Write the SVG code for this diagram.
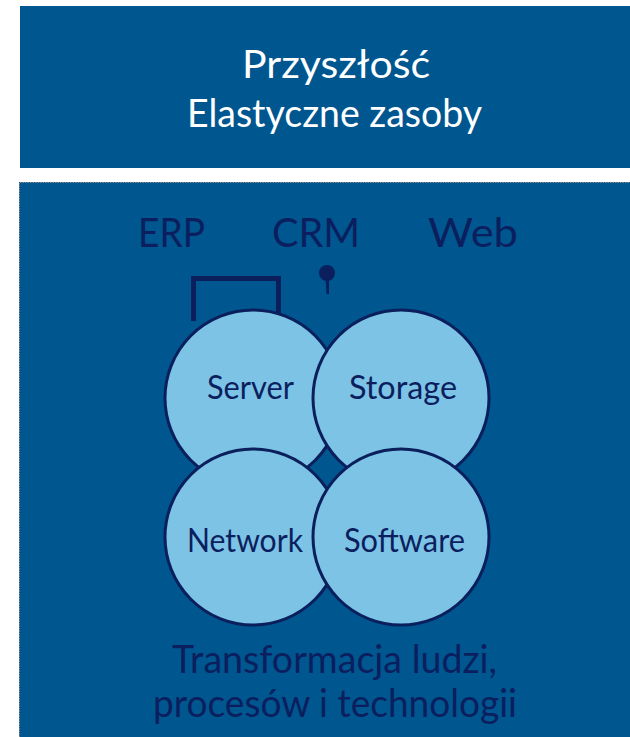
<svg xmlns="http://www.w3.org/2000/svg" width="630" height="737" viewBox="0 0 630 737">
<style>
.bg{fill:#00568F}
.circ{fill:#7DC3E6;stroke:#0A1F5C;stroke-width:3}
.t{font-family:Lato,"Liberation Sans",sans-serif;text-anchor:middle}
.w{fill:#FFFFFF}
.d{fill:#0B1F5E}
</style>
<rect width="630" height="737" fill="#FFFFFF"/>
<g id="header">
<rect class="bg" x="20" y="6" width="610" height="162"/>
<text class="t w" x="336" y="78" font-size="39" textLength="188" lengthAdjust="spacingAndGlyphs">Przyszłość</text>
<text class="t w" x="334.5" y="127" font-size="39" textLength="295" lengthAdjust="spacingAndGlyphs">Elastyczne zasoby</text>
</g>
<g id="panel">
<rect class="bg" x="19" y="182" width="611" height="555"/>
<path d="M19.5 737V182.5H630" fill="none" stroke="#888" stroke-width="1" stroke-dasharray="1.5 1"/>
</g>
<g id="apps">
<text class="t d" x="171.5" y="247" font-size="41" textLength="67" lengthAdjust="spacingAndGlyphs">ERP</text>
<text class="t d" x="316" y="247" font-size="41" textLength="88" lengthAdjust="spacingAndGlyphs">CRM</text>
<text class="t d" x="473" y="247" font-size="41" textLength="90" lengthAdjust="spacingAndGlyphs">Web</text>
</g>
<g id="connectors">
<path d="M193.5 321V278.5H278.5V330" fill="none" stroke="#0A1F5C" stroke-width="5"/>
<circle cx="327" cy="273" r="8" fill="#0A1F5C"/>
<path d="M325.5 278L326.5 294H329L329 278Z" fill="#0A1F5C"/>
</g>
<g id="server">
<circle class="circ" cx="253" cy="398" r="88"/>
<text class="t d" x="250.5" y="399" font-size="33" textLength="87" lengthAdjust="spacingAndGlyphs">Server</text>
</g>
<g id="storage">
<circle class="circ" cx="401" cy="398" r="88"/>
<text class="t d" x="403" y="399" font-size="33" textLength="108" lengthAdjust="spacingAndGlyphs">Storage</text>
</g>
<g id="network">
<circle class="circ" cx="253" cy="537" r="88"/>
<text class="t d" x="245" y="552" font-size="33" textLength="116" lengthAdjust="spacingAndGlyphs">Network</text>
</g>
<g id="software">
<circle class="circ" cx="401" cy="537" r="88"/>
<text class="t d" x="404.5" y="552" font-size="33" textLength="121" lengthAdjust="spacingAndGlyphs">Software</text>
</g>
<g id="footer">
<text class="t d" x="334.5" y="673" font-size="38" textLength="325" lengthAdjust="spacingAndGlyphs">Transformacja ludzi,</text>
<text class="t d" x="335" y="717" font-size="38" textLength="364" lengthAdjust="spacingAndGlyphs">procesów i technologii</text>
</g>
</svg>
